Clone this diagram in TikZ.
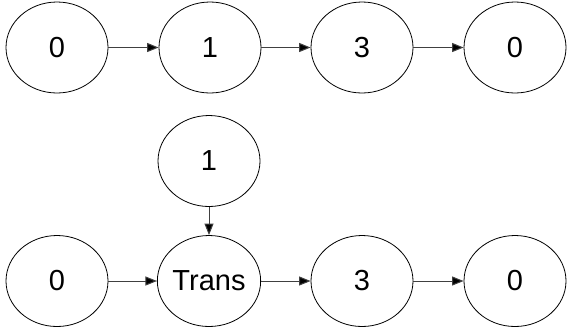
\documentclass[tikz,border=0pt]{standalone}
\usepackage{fontspec}
\setmainfont{Liberation Sans}
\usetikzlibrary{shapes.geometric,arrows.meta}
\begin{document}
\begin{tikzpicture}[x=1pt,y=-1pt,
  st/.style={draw=black,line width=0.8pt,ellipse,minimum width=102pt,minimum height=91pt,inner sep=0pt,font=\fontsize{29}{32}\selectfont},
  conn/.style={draw=black!75,line width=1pt,-{Triangle[length=11.5pt,width=9pt,fill=black]}}]
\useasboundingbox (0,0) rectangle (569,333);
\node[st] (a0) at (57,47.5) {0};
\node[st] (a1) at (210,47.5) {1};
\node[st] (a3) at (362,47.5) {3};
\node[st] (a4) at (515,47.5) {0};
\node[st] (m1) at (209,161) {1};
\node[st] (b0) at (57,281) {0};
\node[st] (bt) at (209,281) {Trans};
\node[st] (b3) at (362,281) {3};
\node[st] (b4) at (515,281) {0};
\draw[conn] (a0) -- (a1);
\draw[conn] (a1) -- (a3);
\draw[conn] (a3) -- (a4);
\draw[conn] (m1) -- (bt);
\draw[conn] (b0) -- (bt);
\draw[conn] (bt) -- (b3);
\draw[conn] (b3) -- (b4);
\end{tikzpicture}
\end{document}
